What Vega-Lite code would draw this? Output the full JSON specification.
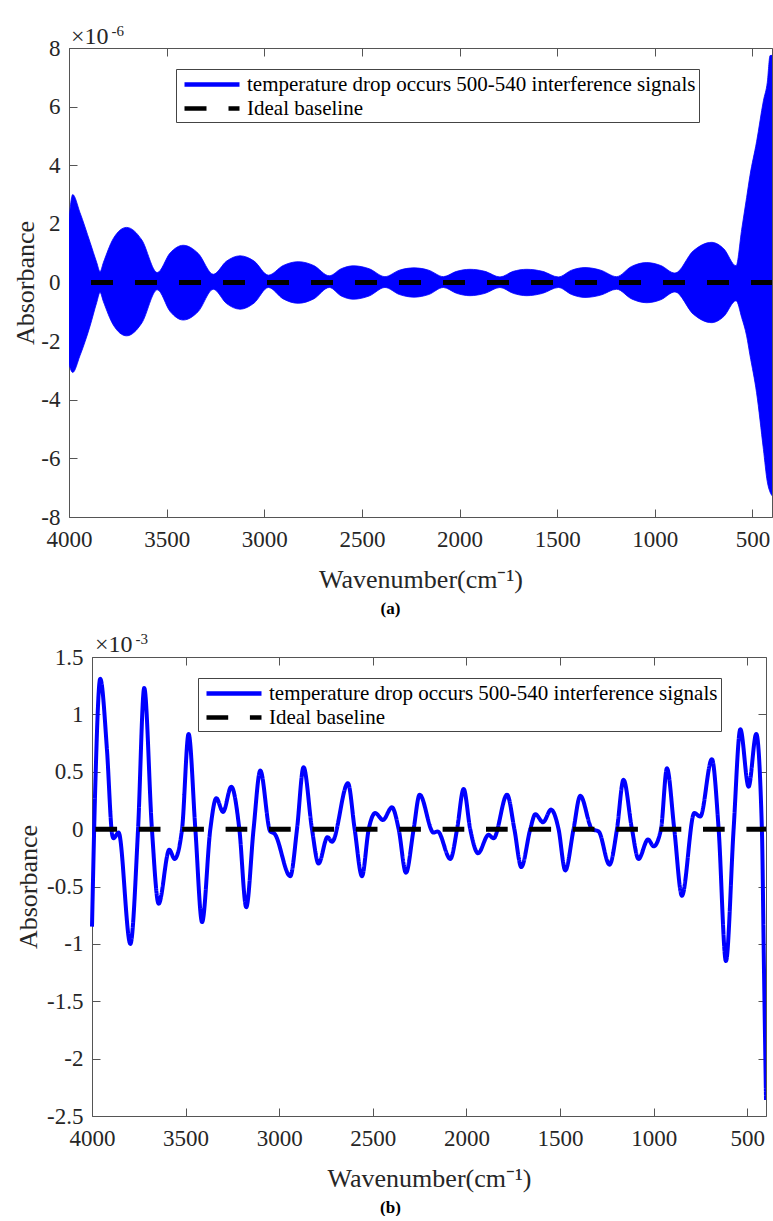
{
  "$schema": "https://vega.github.io/schema/vega-lite/v6.json",
  "background": "white",
  "padding": {"left": 12, "top": 24, "right": 0, "bottom": 0},
  "spacing": 15,
  "datasets": {
    "bandA": [
      {"w": 4000, "hi": 2.15e-6, "lo": -2.79e-6},
      {"w": 3981, "hi": 3.00e-6, "lo": -3.07e-6},
      {"w": 3944, "hi": 2.39e-6, "lo": -2.50e-6},
      {"w": 3892, "hi": 1.37e-6, "lo": -1.48e-6},
      {"w": 3858, "hi": 0.68e-6, "lo": -0.68e-6},
      {"w": 3841, "hi": 0.37e-6, "lo": -0.34e-6},
      {"w": 3824, "hi": 0.68e-6, "lo": -0.65e-6},
      {"w": 3773, "hi": 1.50e-6, "lo": -1.45e-6},
      {"w": 3705, "hi": 1.88e-6, "lo": -1.82e-6},
      {"w": 3627, "hi": 1.45e-6, "lo": -1.38e-6},
      {"w": 3548, "hi": 0.34e-6, "lo": -0.25e-6},
      {"w": 3482, "hi": 1.01e-6, "lo": -0.99e-6},
      {"w": 3415, "hi": 1.27e-6, "lo": -1.28e-6},
      {"w": 3338, "hi": 0.99e-6, "lo": -0.99e-6},
      {"w": 3261, "hi": 0.28e-6, "lo": -0.23e-6},
      {"w": 3193, "hi": 0.73e-6, "lo": -0.72e-6},
      {"w": 3124, "hi": 0.91e-6, "lo": -0.91e-6},
      {"w": 3052, "hi": 0.73e-6, "lo": -0.70e-6},
      {"w": 2979, "hi": 0.25e-6, "lo": -0.17e-6},
      {"w": 2903, "hi": 0.58e-6, "lo": -0.56e-6},
      {"w": 2826, "hi": 0.71e-6, "lo": -0.71e-6},
      {"w": 2747, "hi": 0.58e-6, "lo": -0.56e-6},
      {"w": 2667, "hi": 0.23e-6, "lo": -0.17e-6},
      {"w": 2606, "hi": 0.47e-6, "lo": -0.46e-6},
      {"w": 2544, "hi": 0.57e-6, "lo": -0.57e-6},
      {"w": 2463, "hi": 0.47e-6, "lo": -0.46e-6},
      {"w": 2382, "hi": 0.20e-6, "lo": -0.17e-6},
      {"w": 2308, "hi": 0.42e-6, "lo": -0.41e-6},
      {"w": 2233, "hi": 0.50e-6, "lo": -0.50e-6},
      {"w": 2158, "hi": 0.42e-6, "lo": -0.41e-6},
      {"w": 2083, "hi": 0.20e-6, "lo": -0.17e-6},
      {"w": 2015, "hi": 0.38e-6, "lo": -0.37e-6},
      {"w": 1947, "hi": 0.45e-6, "lo": -0.45e-6},
      {"w": 1870, "hi": 0.38e-6, "lo": -0.37e-6},
      {"w": 1793, "hi": 0.19e-6, "lo": -0.17e-6},
      {"w": 1725, "hi": 0.38e-6, "lo": -0.37e-6},
      {"w": 1656, "hi": 0.45e-6, "lo": -0.45e-6},
      {"w": 1575, "hi": 0.38e-6, "lo": -0.37e-6},
      {"w": 1494, "hi": 0.19e-6, "lo": -0.17e-6},
      {"w": 1426, "hi": 0.42e-6, "lo": -0.41e-6},
      {"w": 1358, "hi": 0.51e-6, "lo": -0.51e-6},
      {"w": 1277, "hi": 0.42e-6, "lo": -0.43e-6},
      {"w": 1196, "hi": 0.20e-6, "lo": -0.23e-6},
      {"w": 1119, "hi": 0.55e-6, "lo": -0.56e-6},
      {"w": 1042, "hi": 0.68e-6, "lo": -0.69e-6},
      {"w": 970, "hi": 0.58e-6, "lo": -0.59e-6},
      {"w": 897, "hi": 0.32e-6, "lo": -0.32e-6},
      {"w": 803, "hi": 1.08e-6, "lo": -1.08e-6},
      {"w": 709, "hi": 1.37e-6, "lo": -1.37e-6},
      {"w": 647, "hi": 1.15e-6, "lo": -1.16e-6},
      {"w": 584, "hi": 0.57e-6, "lo": -0.62e-6},
      {"w": 555, "hi": 1.82e-6, "lo": -1.20e-6},
      {"w": 530, "hi": 2.90e-6, "lo": -1.82e-6},
      {"w": 513, "hi": 3.64e-6, "lo": -2.47e-6},
      {"w": 479, "hi": 4.80e-6, "lo": -3.76e-6},
      {"w": 444, "hi": 6.20e-6, "lo": -5.69e-6},
      {"w": 424, "hi": 6.83e-6, "lo": -6.80e-6},
      {"w": 410, "hi": 7.74e-6, "lo": -7.15e-6},
      {"w": 400, "hi": 7.75e-6, "lo": -7.27e-6}
    ],
    "lineB": [
      {"w": 4000, "a": -0.85e-3},
      {"w": 3982, "a": 0.40e-3},
      {"w": 3956, "a": 1.31e-3},
      {"w": 3920, "a": 0.69e-3},
      {"w": 3893, "a": -0.04e-3},
      {"w": 3885, "a": -0.08e-3},
      {"w": 3858, "a": -0.03e-3},
      {"w": 3795, "a": -1.00e-3},
      {"w": 3754, "a": 0.00},
      {"w": 3721, "a": 1.23e-3},
      {"w": 3680, "a": 0.00},
      {"w": 3644, "a": -0.65e-3},
      {"w": 3587, "a": -0.18e-3},
      {"w": 3559, "a": -0.26e-3},
      {"w": 3519, "a": 0.00},
      {"w": 3484, "a": 0.83e-3},
      {"w": 3448, "a": 0.00},
      {"w": 3412, "a": -0.81e-3},
      {"w": 3368, "a": 0.00},
      {"w": 3336, "a": 0.27e-3},
      {"w": 3300, "a": 0.15e-3},
      {"w": 3256, "a": 0.37e-3},
      {"w": 3213, "a": 0.00},
      {"w": 3176, "a": -0.68e-3},
      {"w": 3137, "a": 0.00},
      {"w": 3101, "a": 0.51e-3},
      {"w": 3048, "a": -0.02e-3},
      {"w": 3025, "a": -0.04e-3},
      {"w": 2941, "a": -0.41e-3},
      {"w": 2905, "a": 0.00},
      {"w": 2870, "a": 0.54e-3},
      {"w": 2825, "a": 0.00},
      {"w": 2790, "a": -0.30e-3},
      {"w": 2742, "a": -0.07e-3},
      {"w": 2718, "a": -0.11e-3},
      {"w": 2633, "a": 0.40e-3},
      {"w": 2597, "a": 0.00},
      {"w": 2558, "a": -0.41e-3},
      {"w": 2522, "a": 0.00},
      {"w": 2487, "a": 0.14e-3},
      {"w": 2446, "a": 0.08e-3},
      {"w": 2398, "a": 0.19e-3},
      {"w": 2362, "a": 0.00},
      {"w": 2323, "a": -0.38e-3},
      {"w": 2282, "a": 0.00},
      {"w": 2250, "a": 0.30e-3},
      {"w": 2176, "a": -0.03e-3},
      {"w": 2154, "a": -0.02e-3},
      {"w": 2086, "a": -0.26e-3},
      {"w": 2050, "a": 0.00},
      {"w": 2015, "a": 0.35e-3},
      {"w": 1980, "a": 0.00},
      {"w": 1938, "a": -0.21e-3},
      {"w": 1882, "a": -0.05e-3},
      {"w": 1855, "a": -0.08e-3},
      {"w": 1783, "a": 0.30e-3},
      {"w": 1744, "a": 0.00},
      {"w": 1707, "a": -0.33e-3},
      {"w": 1659, "a": 0.00},
      {"w": 1632, "a": 0.13e-3},
      {"w": 1591, "a": 0.06e-3},
      {"w": 1548, "a": 0.17e-3},
      {"w": 1508, "a": 0.00},
      {"w": 1472, "a": -0.36e-3},
      {"w": 1428, "a": 0.00},
      {"w": 1392, "a": 0.29e-3},
      {"w": 1329, "a": 0.00},
      {"w": 1294, "a": -0.02e-3},
      {"w": 1236, "a": -0.31e-3},
      {"w": 1196, "a": 0.00},
      {"w": 1161, "a": 0.43e-3},
      {"w": 1116, "a": 0.00},
      {"w": 1081, "a": -0.26e-3},
      {"w": 1030, "a": -0.09e-3},
      {"w": 1000, "a": -0.15e-3},
      {"w": 961, "a": 0.00},
      {"w": 929, "a": 0.53e-3},
      {"w": 890, "a": 0.00},
      {"w": 849, "a": -0.58e-3},
      {"w": 783, "a": 0.14e-3},
      {"w": 751, "a": 0.11e-3},
      {"w": 689, "a": 0.61e-3},
      {"w": 653, "a": 0.00},
      {"w": 614, "a": -1.15e-3},
      {"w": 573, "a": 0.00},
      {"w": 537, "a": 0.87e-3},
      {"w": 493, "a": 0.37e-3},
      {"w": 452, "a": 0.83e-3},
      {"w": 422, "a": 0.00},
      {"w": 411, "a": -1.20e-3},
      {"w": 400, "a": -2.36e-3}
    ],
    "baseline": [
      {"w": 4000, "a": 0},
      {"w": 400, "a": 0}
    ]
  },
  "vconcat": [
    {
      "width": 703,
      "height": 469,
      "title": {"text": "(a)", "orient": "bottom", "anchor": "middle", "fontSize": 17, "fontWeight": "bold", "font": "Liberation Serif", "color": "#000000", "dx": -30, "offset": 9},
      "layer": [
        {
          "data": {"name": "bandA"},
          "mark": {"type": "area", "fill": "#0000ff", "strokeWidth": 0.8, "interpolate": "monotone", "clip": true},
          "encoding": {
            "x": {"field": "w", "type": "quantitative",
              "scale": {"domain": [400, 4000], "reverse": true, "nice": false, "zero": false},
              "axis": {"orient": "bottom", "values": [500, 1000, 1500, 2000, 2500, 3000, 3500, 4000], "format": "d", "title": "Wavenumber(cm⁻¹)", "labelFlush": false, "labelPadding": 19, "titlePadding": 15}},
            "y": {"field": "hi", "type": "quantitative",
              "scale": {"domain": [-8e-6, 8e-6], "nice": false, "zero": false},
              "axis": {"orient": "left", "values": [-8e-6, -6e-6, -4e-6, -2e-6, 0, 2e-6, 4e-6, 6e-6, 8e-6], "labelExpr": "replace(format(datum.value*1000000, '~g'), '−', '-')", "title": "Absorbance", "labelPadding": 17, "titlePadding": 2.5}},
            "y2": {"field": "lo"},
            "stroke": {"datum": "temperature drop occurs 500-540 interference signals", "type": "nominal",
              "scale": {"domain": ["temperature drop occurs 500-540 interference signals", "Ideal baseline"], "range": ["#0000ff", "#000000"]},
              "legend": {"orient": "none", "legendX": 107, "legendY": 21}},
            "strokeDash": {"datum": "temperature drop occurs 500-540 interference signals", "type": "nominal",
              "scale": {"domain": ["temperature drop occurs 500-540 interference signals", "Ideal baseline"], "range": [[1, 0], [22, 22]]},
              "legend": {"orient": "none", "legendX": 107, "legendY": 21}}
          }
        },
        {
          "data": {"name": "baseline"},
          "mark": {"type": "line", "strokeWidth": 5, "strokeDashOffset": 22, "clip": true},
          "encoding": {
            "x": {"field": "w", "type": "quantitative",
              "scale": {"domain": [400, 4000], "reverse": true, "nice": false, "zero": false},
              "axis": {"orient": "top", "values": [500, 1000, 1500, 2000, 2500, 3000, 3500, 4000], "labels": false, "title": null}},
            "y": {"field": "a", "type": "quantitative",
              "scale": {"domain": [-8e-6, 8e-6], "nice": false, "zero": false},
              "axis": {"orient": "right", "values": [-8e-6, -6e-6, -4e-6, -2e-6, 0, 2e-6, 4e-6, 6e-6, 8e-6], "labels": false, "title": null}},
            "order": {"field": "w", "sort": "descending"},
            "stroke": {"datum": "Ideal baseline", "type": "nominal",
              "scale": {"domain": ["temperature drop occurs 500-540 interference signals", "Ideal baseline"], "range": ["#0000ff", "#000000"]},
              "legend": {"orient": "none", "legendX": 107, "legendY": 21}},
            "strokeDash": {"datum": "Ideal baseline", "type": "nominal",
              "scale": {"domain": ["temperature drop occurs 500-540 interference signals", "Ideal baseline"], "range": [[1, 0], [22, 22]]},
              "legend": {"orient": "none", "legendX": 107, "legendY": 21}}
          }
        },
        {
          "data": {"values": [{}]},
          "mark": {"type": "text", "text": "×10", "align": "left", "baseline": "alphabetic", "fontSize": 24, "dx": 2, "dy": -4, "font": "Liberation Serif", "color": "#262626"},
          "encoding": {
            "x": {"datum": 4000, "type": "quantitative", "scale": {"domain": [400, 4000], "reverse": true, "nice": false, "zero": false}, "axis": null},
            "y": {"datum": 8e-6, "type": "quantitative", "scale": {"domain": [-8e-6, 8e-6], "nice": false, "zero": false}, "axis": null}
          }
        },
        {
          "data": {"values": [{}]},
          "mark": {"type": "text", "text": "-6", "align": "left", "baseline": "alphabetic", "fontSize": 15, "dx": 42.5, "dy": -12, "font": "Liberation Serif", "color": "#262626"},
          "encoding": {
            "x": {"datum": 4000, "type": "quantitative", "scale": {"domain": [400, 4000], "reverse": true, "nice": false, "zero": false}, "axis": null},
            "y": {"datum": 8e-6, "type": "quantitative", "scale": {"domain": [-8e-6, 8e-6], "nice": false, "zero": false}, "axis": null}
          }
        }
      ],
      "resolve": {"axis": {"x": "independent", "y": "independent"}}
    },
    {
      "width": 697,
      "height": 459,
      "title": {"text": "(b)", "orient": "bottom", "anchor": "middle", "fontSize": 17, "fontWeight": "bold", "font": "Liberation Serif", "color": "#000000", "dx": -27, "offset": 9},
      "layer": [
        {
          "data": {"name": "lineB"},
          "mark": {"type": "line", "strokeWidth": 4, "interpolate": "monotone", "clip": true},
          "encoding": {
            "x": {"field": "w", "type": "quantitative",
              "scale": {"domain": [400, 4000], "range": [23, 697], "reverse": true, "nice": false, "zero": false},
              "axis": {"orient": "bottom", "values": [500, 1000, 1500, 2000, 2500, 3000, 3500, 4000], "format": "d", "title": "Wavenumber(cm⁻¹)", "labelFlush": false, "labelPadding": 19, "titlePadding": 15}},
            "y": {"field": "a", "type": "quantitative",
              "scale": {"domain": [-2.5e-3, 1.5e-3], "nice": false, "zero": false},
              "axis": {"orient": "left", "offset": -23, "values": [-2.5e-3, -2e-3, -1.5e-3, -1e-3, -0.5e-3, 0, 0.5e-3, 1e-3, 1.5e-3], "labelExpr": "replace(format(datum.value*1000, '~g'), '−', '-')", "title": "Absorbance", "labelPadding": 17, "titlePadding": 5.5}},
            "stroke": {"datum": "temperature drop occurs 500-540 interference signals", "type": "nominal",
              "scale": {"domain": ["temperature drop occurs 500-540 interference signals", "Ideal baseline"], "range": ["#0000ff", "#000000"]},
              "legend": {"orient": "none", "legendX": 129, "legendY": 21}},
            "strokeDash": {"datum": "temperature drop occurs 500-540 interference signals", "type": "nominal",
              "scale": {"domain": ["temperature drop occurs 500-540 interference signals", "Ideal baseline"], "range": [[1, 0], [21.7, 21.7]]},
              "legend": {"orient": "none", "legendX": 129, "legendY": 21}}
          }
        },
        {
          "data": {"name": "baseline"},
          "mark": {"type": "line", "strokeWidth": 5, "strokeDashOffset": 40, "clip": true},
          "encoding": {
            "x": {"field": "w", "type": "quantitative",
              "scale": {"domain": [400, 4000], "range": [23, 697], "reverse": true, "nice": false, "zero": false},
              "axis": {"orient": "top", "values": [500, 1000, 1500, 2000, 2500, 3000, 3500, 4000], "labels": false, "title": null}},
            "y": {"field": "a", "type": "quantitative",
              "scale": {"domain": [-2.5e-3, 1.5e-3], "nice": false, "zero": false},
              "axis": {"orient": "right", "values": [-2.5e-3, -2e-3, -1.5e-3, -1e-3, -0.5e-3, 0, 0.5e-3, 1e-3, 1.5e-3], "labels": false, "title": null}},
            "order": {"field": "w", "sort": "descending"},
            "stroke": {"datum": "Ideal baseline", "type": "nominal",
              "scale": {"domain": ["temperature drop occurs 500-540 interference signals", "Ideal baseline"], "range": ["#0000ff", "#000000"]},
              "legend": {"orient": "none", "legendX": 129, "legendY": 21}},
            "strokeDash": {"datum": "Ideal baseline", "type": "nominal",
              "scale": {"domain": ["temperature drop occurs 500-540 interference signals", "Ideal baseline"], "range": [[1, 0], [21.7, 21.7]]},
              "legend": {"orient": "none", "legendX": 129, "legendY": 21}}
          }
        },
        {
          "data": {"values": [{}]},
          "mark": {"type": "text", "text": "×10", "align": "left", "baseline": "alphabetic", "fontSize": 24, "dx": 3, "dy": -5, "font": "Liberation Serif", "color": "#262626"},
          "encoding": {
            "x": {"datum": 4000, "type": "quantitative", "scale": {"domain": [400, 4000], "range": [23, 697], "reverse": true, "nice": false, "zero": false}, "axis": null},
            "y": {"datum": 1.5e-3, "type": "quantitative", "scale": {"domain": [-2.5e-3, 1.5e-3], "nice": false, "zero": false}, "axis": null}
          }
        },
        {
          "data": {"values": [{}]},
          "mark": {"type": "text", "text": "-3", "align": "left", "baseline": "alphabetic", "fontSize": 15, "dx": 43.5, "dy": -13, "font": "Liberation Serif", "color": "#262626"},
          "encoding": {
            "x": {"datum": 4000, "type": "quantitative", "scale": {"domain": [400, 4000], "range": [23, 697], "reverse": true, "nice": false, "zero": false}, "axis": null},
            "y": {"datum": 1.5e-3, "type": "quantitative", "scale": {"domain": [-2.5e-3, 1.5e-3], "nice": false, "zero": false}, "axis": null}
          }
        }
      ],
      "resolve": {"axis": {"x": "independent", "y": "independent"}}
    }
  ],
  "resolve": {
    "scale": {"x": "independent", "y": "independent", "stroke": "independent", "strokeDash": "independent"},
    "legend": {"stroke": "independent", "strokeDash": "independent"}
  },
  "config": {
    "view": {"stroke": null},
    "font": "Liberation Serif",
    "locale": {"number": {"decimal": ".", "thousands": ",", "grouping": [3], "currency": ["$", ""], "minus": "-"}},
    "axis": {
      "grid": false,
      "domainColor": "#555555",
      "domainWidth": 1,
      "tickColor": "#555555",
      "tickSize": -8,
      "tickWidth": 1,
      "labelFont": "Liberation Serif",
      "labelFontSize": 23,
      "labelColor": "#262626",
      "titleFont": "Liberation Serif",
      "titleFontSize": 26,
      "titleFontWeight": "normal",
      "titleColor": "#262626",
      "labelBound": false
    },
    "legend": {
      "title": null,
      "symbolType": "M-2.75,0L2.75,0",
      "symbolSize": 400,
      "symbolOffset": 20.5,
      "symbolStrokeWidth": 4.5,
      "labelFont": "Liberation Serif",
      "labelFontSize": 21,
      "labelColor": "#000000",
      "labelLimit": 800,
      "labelOffset": 22.5,
      "rowPadding": 1,
      "padding": 3,
      "strokeColor": "#444444",
      "fillColor": "#ffffff"
    }
  }
}
